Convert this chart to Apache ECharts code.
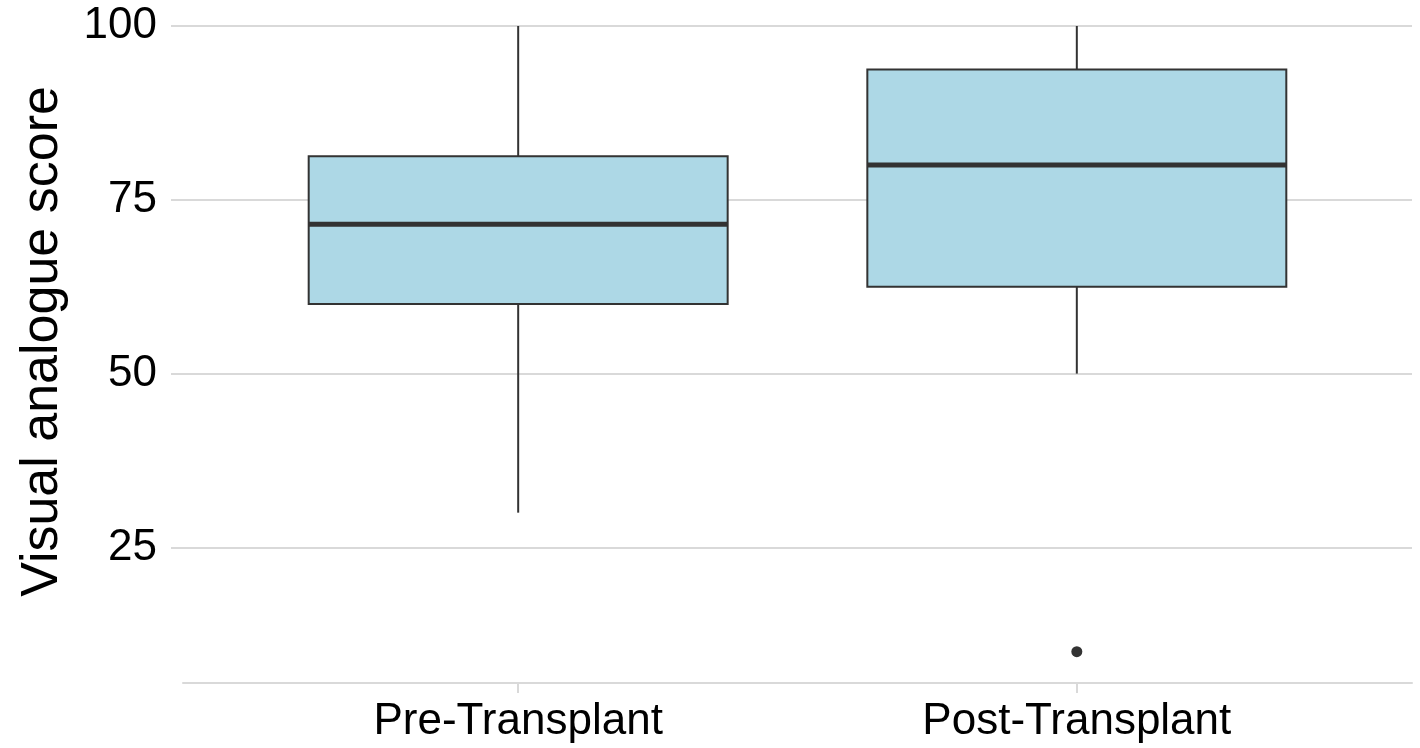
<!DOCTYPE html>
<html>
<head>
<meta charset="utf-8">
<script src="https://cdn.jsdelivr.net/npm/echarts@6/dist/echarts.min.js"></script>
<style>
html,body{margin:0;padding:0;background:#fff;}
#chart{width:1420px;height:748px;}
</style>
</head>
<body>
<div id="chart"></div>
<script>
// ---- data ----
const categories = ['Pre-Transplant', 'Post-Transplant'];
const lowerWhisker = [30, 50];
const q1 = [60, 62.5];
const median = [71.5, 80];
const q3 = [81.25, 93.75];
const upperWhisker = [100, 100];
const outlierCategory = ['Post-Transplant'];
const outlierValue = [10];
const yTicks = [25, 50, 75, 100];
const yTitle = 'Visual analogue score';

// ---- build ----
const catPos = categories.map((c, i) => i + 1);
const boxData = categories.map((c, i) => [catPos[i], lowerWhisker[i], q1[i], median[i], q3[i], upperWhisker[i]]);
const outlierData = outlierCategory.map((c, i) => [categories.indexOf(c) + 1, outlierValue[i]]);

const FONT = 'Liberation Sans';
const GRID_COL = '#d9d9d9';
const DARK = '#333333';

const chart = echarts.init(document.getElementById('chart'), null, {renderer: 'canvas'});
chart.setOption({
  animation: false,
  backgroundColor: '#ffffff',
  grid: {left: 183, right: 8, top: 0, bottom: 65},
  xAxis: {
    type: 'value',
    min: 0.4,
    max: 2.6,
    axisLine: {show: true, lineStyle: {color: GRID_COL, width: 2}},
    axisTick: {show: true, length: 10, customValues: catPos, lineStyle: {color: GRID_COL, width: 2}},
    axisLabel: {
      customValues: catPos,
      margin: 17,
      fontFamily: FONT, fontSize: 44, color: '#000',
      formatter: v => categories[Math.round(v) - 1] || ''
    },
    splitLine: {show: false}
  },
  yAxis: {
    type: 'value',
    min: 5.5,
    max: 103.74,
    name: yTitle,
    nameLocation: 'middle',
    nameGap: 114,
    nameRotate: 90,
    nameTextStyle: {fontFamily: FONT, fontSize: 52, color: '#000'},
    axisLine: {show: false},
    axisTick: {show: true, length: 12, customValues: yTicks, lineStyle: {color: GRID_COL, width: 2}},
    axisLabel: {customValues: yTicks, margin: 26, fontFamily: FONT, fontSize: 44, color: '#000'},
    splitLine: {show: true, lineStyle: {color: GRID_COL, width: 2}}
  },
  series: [
    {
      type: 'custom',
      data: boxData,
      encode: {x: 0, y: [1, 2, 3, 4, 5]},
      renderItem: function (params, api) {
        const x = api.value(0);
        const pLow = api.coord([x, api.value(1)]);
        const pQ1 = api.coord([x, api.value(2)]);
        const pMed = api.coord([x, api.value(3)]);
        const pQ3 = api.coord([x, api.value(4)]);
        const pHigh = api.coord([x, api.value(5)]);
        const halfW = api.size([0.75, 0])[0] / 2;
        const cx = pMed[0];
        return {
          type: 'group',
          children: [
            {type: 'line', shape: {x1: cx, y1: pHigh[1], x2: cx, y2: pQ3[1]}, style: {stroke: DARK, lineWidth: 2}},
            {type: 'line', shape: {x1: cx, y1: pQ1[1], x2: cx, y2: pLow[1]}, style: {stroke: DARK, lineWidth: 2}},
            {type: 'rect', shape: {x: cx - halfW, y: pQ3[1], width: halfW * 2, height: pQ1[1] - pQ3[1]},
             style: {fill: '#ADD8E6', stroke: DARK, lineWidth: 2}},
            {type: 'line', shape: {x1: cx - halfW, y1: pMed[1], x2: cx + halfW, y2: pMed[1]}, style: {stroke: DARK, lineWidth: 5}}
          ]
        };
      }
    },
    {
      type: 'scatter',
      data: outlierData,
      symbol: 'circle',
      symbolSize: 11,
      itemStyle: {color: DARK, opacity: 1}
    }
  ]
});
</script>
</body>
</html>
